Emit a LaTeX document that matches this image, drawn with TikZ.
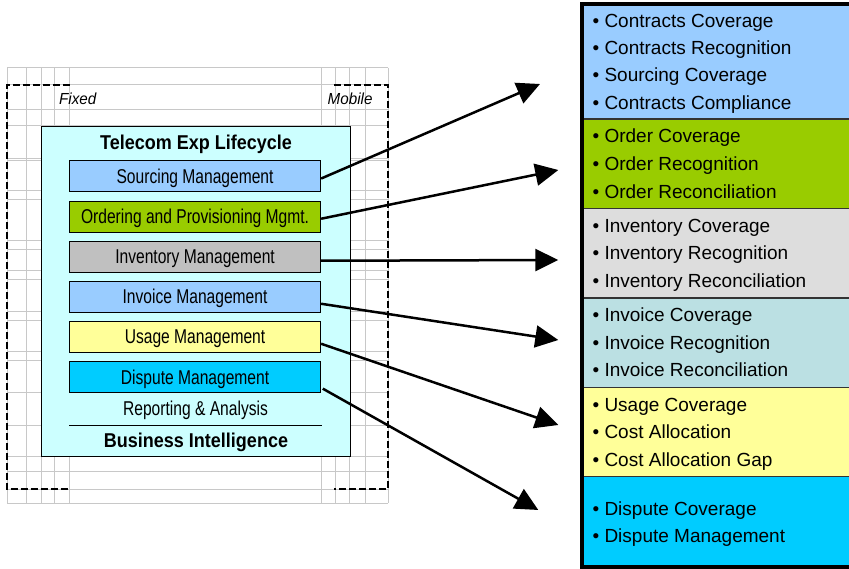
\documentclass[tikz,border=0pt]{standalone}
\usepackage{fontspec}
\setmainfont{Liberation Sans}
\newfontfamily\condf[FakeStretch=0.78]{Liberation Sans}
\newfontfamily\condbf[FakeStretch=0.9]{Liberation Sans}
\newfontfamily\condit[FakeStretch=0.95]{Liberation Sans}
\usetikzlibrary{arrows.meta,calc}
\definecolor{gridgray}{HTML}{C8C8C8}
\definecolor{lifecyan}{HTML}{CCFFFF}
\definecolor{cblue}{HTML}{99CCFF}
\definecolor{cgreen}{HTML}{99CC00}
\definecolor{cgray}{HTML}{C0C0C0}
\definecolor{cyellow}{HTML}{FFFF99}
\definecolor{ccyan}{HTML}{00CCFF}
\definecolor{rgray}{HTML}{DDDDDD}
\definecolor{rteal}{HTML}{BBE0E3}
\definecolor{sepgray}{HTML}{333333}
\begin{document}
\begin{tikzpicture}[x=1pt,y=-1pt,
  gridline/.style={draw=gridgray, line width=1pt},
  dashline/.style={draw=black, line width=1.2pt, dash pattern=on 7pt off 3pt},
  mgmt/.style={draw=black, line width=1.1pt, anchor=north west, inner sep=0pt,
    minimum width=251pt, minimum height=31pt, text height=14pt, text depth=0pt,
    font=\condf\fontsize{20}{23}\selectfont},
  section/.style={draw=sepgray, line width=1.4pt, anchor=north west, inner sep=0pt,
    minimum width=269pt},
  item/.style={anchor=base west, inner sep=0pt, font=\fontsize{19}{22}\selectfont},
  conn/.style={draw=black, line width=2.5pt, -{Triangle[length=23pt,width=22pt]}}
]
\useasboundingbox (0,0) rectangle (849,569);

% background grid
\foreach \x in {7,26,41,54.5,69.5,321,335,349.5,365,388}
  \draw[gridline] (\x,68) -- (\x,503);
\foreach \y in {68,85,110,126,159,161,191,200,241,250,271,280,311.7,321,351.7,361,392.7,425,456,471.7,489,503}
  \draw[gridline] (7,\y) -- (388,\y);

% dashed fixed / mobile frames
\draw[dashline] (69.5,85) -- (7,85) -- (7,489) -- (69.5,489);
\draw[dashline] (334,85) -- (388,85) -- (388,489) -- (334,489);
\node[anchor=base west, inner sep=0pt, font=\condit\itshape\fontsize{16}{19}\selectfont] (fixed) at (59,105) {Fixed};
\node[anchor=base east, inner sep=0pt, font=\condit\itshape\fontsize{16}{19}\selectfont] (mobile) at (372.7,105) {Mobile};

% lifecycle box
\node[draw=black, line width=1pt, fill=lifecyan, anchor=north west, inner sep=0pt,
  minimum width=309pt, minimum height=330pt] (life) at (40.5,126) {};
\node[anchor=base, inner sep=0pt, font=\condbf\bfseries\fontsize{20}{24}\selectfont] (title) at (196,149.3) {Telecom Exp Lifecycle};

\node[mgmt, fill=cblue]   (s1) at (69,160)   {Sourcing Management};
\node[mgmt, fill=cgreen]  (s2) at (69,200.7) {Ordering and Provisioning Mgmt.};
\node[mgmt, fill=cgray]   (s3) at (69,240.7) {Inventory Management};
\node[mgmt, fill=cblue]   (s4) at (69,280.7) {Invoice Management};
\node[mgmt, fill=cyellow] (s5) at (69,320.7) {Usage Management};
\node[mgmt, fill=ccyan]   (s6) at (69,361)   {Dispute Management};

\node[anchor=base, inner sep=0pt, font=\condf\fontsize{20}{23}\selectfont] (rep) at (195.5,415) {Reporting \& Analysis};
\coordinate (ruleL) at (69,425.7);
\coordinate (ruleR) at (322,425.7);
\draw[black, line width=0.9pt] (ruleL) -- (ruleR);
\node[anchor=base, inner sep=0pt, font=\condbf\bfseries\fontsize{20}{24}\selectfont] (bi) at (196,447.7) {Business Intelligence};

% right panel sections
\node[section, fill=cblue,   minimum height=114.5pt] (r1) at (582,4)     {};
\node[section, fill=cgreen,  minimum height=89.5pt]  (r2) at (582,118.5) {};
\node[section, fill=rgray,   minimum height=89.5pt]  (r3) at (582,208)   {};
\node[section, fill=rteal,   minimum height=89pt]    (r4) at (582,297.5) {};
\node[section, fill=cyellow, minimum height=89.2pt]  (r5) at (582,386.5) {};
\node[section, fill=ccyan,   minimum height=91.3pt]  (r6) at (582,475.7) {};
\draw[black, line width=4pt] (851,4.3) -- (582,4.3) -- (582,567) -- (851,567);

\node[item] (i11) at (592.4,27.5)  {• Contracts Coverage};
\node[item] (i12) at (592.4,55)    {• Contracts Recognition};
\node[item] (i13) at (592.4,82)    {• Sourcing Coverage};
\node[item] (i14) at (592.4,109.5) {• Contracts Compliance};
\node[item] (i21) at (592.4,142.7) {• Order Coverage};
\node[item] (i22) at (592.4,170.5) {• Order Recognition};
\node[item] (i23) at (592.4,198.3) {• Order Reconciliation};
\node[item] (i31) at (592.4,232.3) {• Inventory Coverage};
\node[item] (i32) at (592.4,260)   {• Inventory Recognition};
\node[item] (i33) at (592.4,287.3) {• Inventory Reconciliation};
\node[item] (i41) at (592.4,321.7) {• Invoice Coverage};
\node[item] (i42) at (592.4,349.3) {• Invoice Recognition};
\node[item] (i43) at (592.4,376.7) {• Invoice Reconciliation};
\node[item] (i51) at (592.4,411)   {• Usage Coverage};
\node[item] (i52) at (592.4,438.3) {• Cost Allocation};
\node[item] (i53) at (592.4,466)   {• Cost Allocation Gap};
\node[item] (i61) at (592.4,515)   {• Dispute Coverage};
\node[item] (i62) at (592.4,542.7) {• Dispute Management};

% arrow tips
\coordinate (t1) at (540,84);
\coordinate (t2) at (558.3,170);
\coordinate (t3) at (558.3,260);
\coordinate (t4) at (558.3,340);
\coordinate (t5) at (558.3,425);
\coordinate (t6) at (538.3,510);

\draw[conn] ($(s1.east)+(0,2.5)$) -- (t1);
\draw[conn] ($(s2.east)+(0,2)$) -- (t2);
\draw[conn] ($(s3.east)+(0,4)$) -- (t3);
\draw[conn] ($(s4.east)+(0,7)$) -- (t4);
\draw[conn] ($(s5.east)+(0,7)$) -- (t5);
\draw[conn] ($(s6.east)+(1.7,11.6)$) -- (t6);
\end{tikzpicture}
\end{document}
